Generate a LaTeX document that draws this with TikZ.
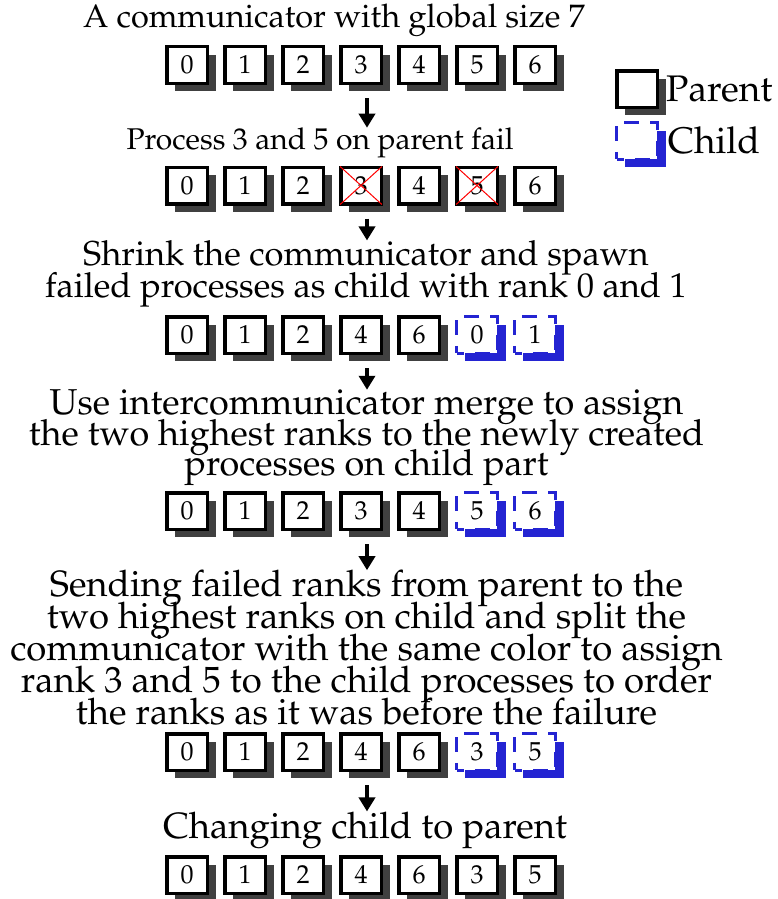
\documentclass[tikz,border=0pt]{standalone}
\usepackage[T1]{fontenc}
\usepackage{mathpazo}
\usepackage{tikz}
\usetikzlibrary{arrows.meta,positioning,shadows,calc}
\definecolor{childblue}{RGB}{36,36,210}
\newcommand{\capfont}[2]{\fontsize{#1}{#2}\selectfont\lineskiplimit=-40pt}
\tikzset{
  % rank boxes
  rankbase/.style={draw,line width=3.5pt,fill=white,minimum width=40.5pt,
                   minimum height=36.5pt,inner sep=0pt,font=\fontsize{26}{26}\selectfont},
  rank/.style={rankbase,drop shadow={shadow xshift=8.5pt,shadow yshift=-8pt,
                                     fill=black!75,opacity=1}},
  childrank/.style={rankbase,draw=childblue,line width=3pt,
                    dash pattern=on 15pt off 10.67pt,dash phase=7.5pt,
                    drop shadow={shadow xshift=8.5pt,shadow yshift=-8pt,
                                 fill=childblue,opacity=1}},
  % red cross on a failed rank
  failcross/.style={red,line width=1pt,shorten <=1.5pt,shorten >=1.5pt},
  % step captions
  caption/.style={align=center,inner sep=0pt},
  legendtext/.style={font=\fontsize{37}{32}\selectfont,inner sep=0pt},
  flow/.style={line width=4.5pt,-{Triangle[length=14pt,width=16pt]}},
}

\begin{document}
\begin{tikzpicture}[x=1pt,y=-1pt]
\useasboundingbox (0,0) rectangle (777,899);

% legend
\node[rank] (lgparent) at (637,89) {};
\node[legendtext,right=7pt of lgparent] {Parent};
\node[childrank] (lgchild) at (637,141) {};
\node[legendtext,right=9pt of lgchild] {Child};

% step 1
\node[caption,font=\capfont{32.5}{32}] (t1) at (334,20) {A communicator with global size 7};
\foreach \lbl [count=\i from 0] in {0,1,2,3,4,5,6}
  \node[rank] (r1-\i) at (187+58*\i,65) {\lbl};

% step 2
\node[caption,font=\capfont{30}{32}] (t2) at (320,143) {Process 3 and 5 on parent fail};
\foreach \lbl [count=\i from 0] in {0,1,2,3,4,5,6}
  \node[rank] (r2-\i) at (187+58*\i,185.5) {\lbl};
\draw[failcross] (r2-3.north west) -- (r2-3.south east);
\draw[failcross] (r2-3.north east) -- (r2-3.south west);
\draw[failcross] (r2-5.north west) -- (r2-5.south east);
\draw[failcross] (r2-5.north east) -- (r2-5.south west);

% step 3
\node[caption,font=\capfont{34.5}{32}] (t3) at (366,274) {Shrink the communicator and spawn\\
  failed processes as child with rank 0 and 1};
\foreach \lbl/\sty [count=\i from 0] in {0/rank,1/rank,2/rank,4/rank,6/rank,0/childrank,1/childrank}
  \node[\sty] (r3-\i) at (187+58*\i,335) {\lbl};

% step 4
\node[caption,font=\capfont{36}{30.5}] (t4) at (366.5,438) {Use intercommunicator merge to assign\\
  the two highest ranks to the newly created\\processes on child part};
\foreach \lbl/\sty [count=\i from 0] in {0/rank,1/rank,2/rank,3/rank,4/rank,5/childrank,6/childrank}
  \node[\sty] (r4-\i) at (187+58*\i,511) {\lbl};

% step 5
\node[caption,font=\capfont{36.5}{32}] (t5) at (366.5,648) {Sending failed ranks from parent to the\\
  two highest ranks on child and split the\\
  communicator with the same color to assign\\
  rank 3 and 5 to the child processes to order\\
  the ranks as it was before the failure};
\foreach \lbl/\sty [count=\i from 0] in {0/rank,1/rank,2/rank,4/rank,6/rank,3/childrank,5/childrank}
  \node[\sty] (r5-\i) at (187+58*\i,752) {\lbl};

% step 6
\node[caption,font=\capfont{36.5}{32}] (t6) at (365,830) {Changing child to parent};
\foreach \lbl [count=\i from 0] in {0,1,2,4,6,3,5}
  \node[rank] (r6-\i) at (187+58*\i,875) {\lbl};

% arrows between steps
\draw[flow] ([xshift=6pt,yshift=-13pt]r1-3.south) -- ([xshift=6pt]r1-3.south |- t2.north);
\draw[flow] ([xshift=6pt,yshift=-13pt]r2-3.south) -- ([xshift=6pt]r2-3.south |- t3.north);
\draw[flow] ([xshift=6pt,yshift=-13pt]r3-3.south) -- ([xshift=6pt]r3-3.south |- t4.north);
\draw[flow] ([xshift=6pt,yshift=-13pt]r4-3.south) -- ([xshift=6pt]r4-3.south |- t5.north);
\draw[flow] ([xshift=6pt,yshift=-13pt]r5-3.south) -- ([xshift=6pt]r5-3.south |- t6.north);
\end{tikzpicture}
\end{document}
